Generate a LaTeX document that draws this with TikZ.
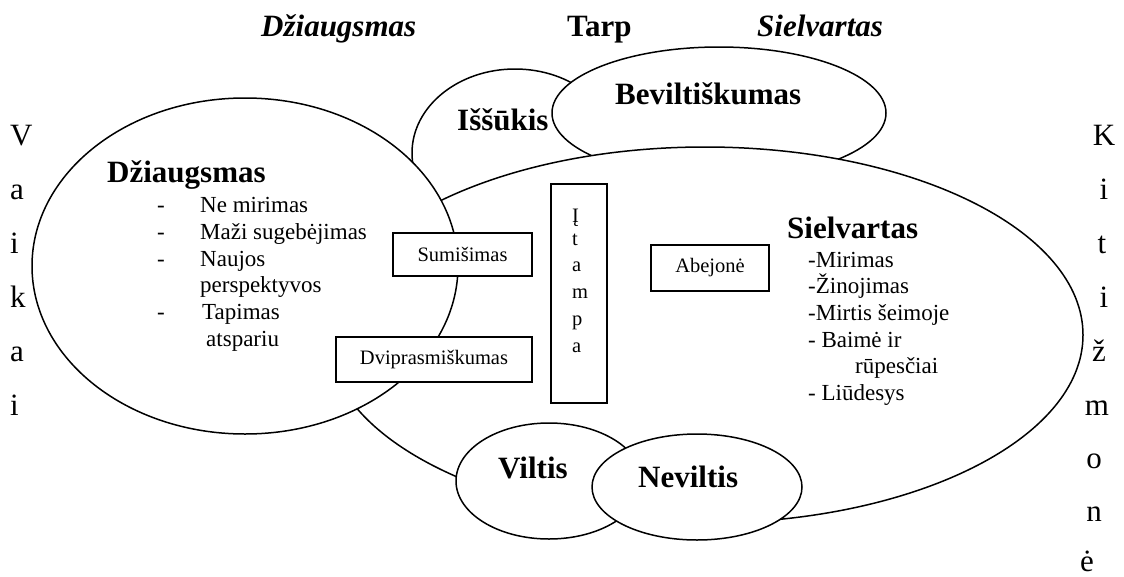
\documentclass[tikz,border=0pt]{standalone}
\usepackage{fontspec}
\setmainfont{Liberation Serif}
\usetikzlibrary{shapes.geometric}
\tikzset{
  oval/.style={ellipse, draw, fill=white, line width=1.5pt, inner sep=0pt},
  boxn/.style={rectangle, draw, fill=white, line width=1.3pt, inner sep=0pt, font=\fontsize{20.5}{24}\selectfont},
  bigl/.style={anchor=base west, inner sep=0pt, font=\fontsize{31}{36}\selectfont\bfseries},
  topl/.style={anchor=base west, inner sep=0pt, font=\fontsize{31}{36}\selectfont\bfseries\itshape},
  listl/.style={anchor=base west, inner sep=0pt, font=\fontsize{23}{27}\selectfont},
  vert/.style={anchor=base, inner sep=0pt, font=\fontsize{31}{36}\selectfont},
  smallv/.style={anchor=base west, inner sep=0pt, font=\fontsize{20.5}{24}\selectfont}
}
\begin{document}
\begin{tikzpicture}[x=1pt,y=-1pt]
\useasboundingbox (0,0) rectangle (1124,576);
% ellipses (back to front)
\node (iss) [oval, minimum width=206pt, minimum height=168pt] at (515,153) {};
\node (bev) [oval, minimum width=334pt, minimum height=132pt] at (719,113) {};
\node (siel) [oval, minimum width=756pt, minimum height=376pt] at (705,335) {};
\node (dzi) [oval, minimum width=426pt, minimum height=336pt] at (245,266) {};
\node (vil) [oval, minimum width=186pt, minimum height=116pt] at (549,481) {};
\node (nev) [oval, minimum width=210pt, minimum height=106pt] at (697,487) {};
% boxes
\node (sum) [boxn, minimum width=139pt, minimum height=43pt] at (462.5,254.5) {Sumišimas};
\node (dvi) [boxn, minimum width=196pt, minimum height=45pt] at (434,359.5) {Dviprasmiškumas};
\node (itm) [boxn, minimum width=56pt, minimum height=219pt] at (579,293.5) {};
\node (abe) [boxn, minimum width=118pt, minimum height=46pt] at (710,268) {Abejonė};
% Itampa letters
\foreach \l/\yy [count=\i] in {Į/222, t/245, a/271, m/298, p/325, a/352}
  \node (itl\i) [smallv] at (572,\yy) {\l};
% top titles
\node (tdz) [topl] at (261,36) {Džiaugsmas};
\node (ttarp) [bigl] at (567,36) {Tarp};
\node (tsiel) [topl] at (757,36) {Sielvartas};
% bold labels
\node (liss) [bigl] at (457,130) {Iššūkis};
\node (lbev) [bigl] at (615,104) {Beviltiškumas};
\node (ldz) [bigl] at (107,182) {Džiaugsmas};
\node (lsiel) [bigl] at (787,238) {Sielvartas};
\node (lvil) [bigl] at (498,478) {Viltis};
\node (lnev) [bigl] at (638,487) {Neviltis};
% Dziaugsmas list
\node (dd1) [listl] at (157,212) {-};
\node (dt1) [listl] at (200,212) {Ne mirimas};
\node (dd2) [listl] at (157,239) {-};
\node (dt2) [listl] at (200,239) {Maži sugebėjimas};
\node (dd3) [listl] at (157,266) {-};
\node (dt3) [listl] at (200,266) {Naujos};
\node (dt4) [listl] at (200,292) {perspektyvos};
\node (dd5) [listl] at (157,319) {-};
\node (dt5) [listl] at (202,319) {Tapimas};
\node (dt6) [listl] at (206,346) {atspariu};
% Sielvartas list
\node (st1) [listl] at (808,267) {-Mirimas};
\node (st2) [listl] at (808,293) {-Žinojimas};
\node (st3) [listl] at (808,320) {-Mirtis šeimoje};
\node (st4) [listl] at (808,347) {- Baimė ir};
\node (st5) [listl] at (855,373) {rūpesčiai};
\node (st6) [listl] at (808,400) {- Liūdesys};
% vertical words
\foreach \l/\yy [count=\i] in {V/145, a/199, i/253, k/307, a/361, i/415}
  \node (vk\i) [vert, anchor=base west] at (10,\yy) {\l};
\foreach \l/\xx/\yy [count=\i] in {K/1104/145, i/1104/199, t/1102/253, i/1104/307, ž/1099/361, m/1097/415, o/1094/468, n/1094/521, ė/1087/571}
  \node (kz\i) [vert] at (\xx,\yy) {\l};
\end{tikzpicture}
\end{document}
